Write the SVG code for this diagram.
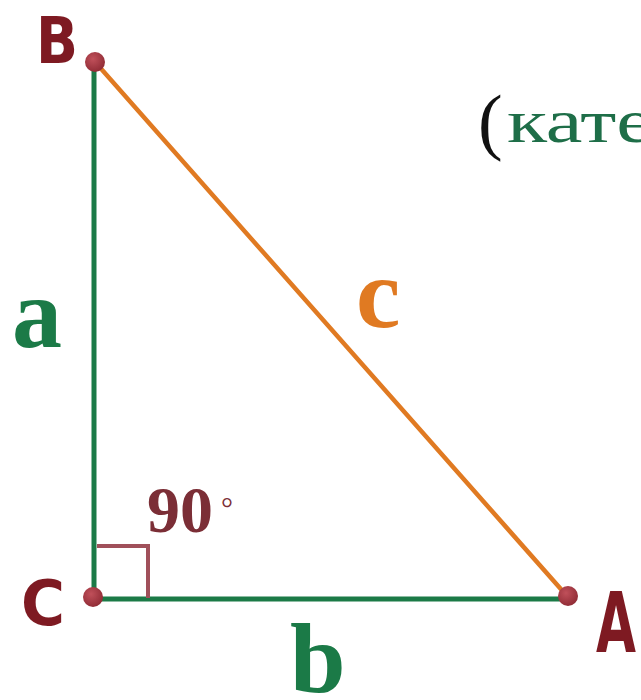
<svg xmlns="http://www.w3.org/2000/svg" width="641" height="700" viewBox="0 0 641 700">
<style>
.leg{stroke:#1b7a47;stroke-width:5;stroke-linecap:round}
.hyp{stroke:#e07a22;stroke-width:4.5;stroke-linecap:round}
.pt{fill:url(#dot)}
.hand{font-family:"DejaVu Sans",sans-serif;font-weight:bold;fill:#7e1a22}
.ser{font-family:"Liberation Serif","DejaVu Serif",serif;font-weight:bold}
</style>
<defs>
<radialGradient id="dot" cx="0.4" cy="0.35" r="0.7">
<stop offset="0" stop-color="#c0505a"/>
<stop offset="1" stop-color="#8e2a34"/>
</radialGradient>
</defs>
<rect width="641" height="700" fill="#ffffff"/>
<g id="connectors">
<line class="leg" x1="94" y1="64" x2="94" y2="598"/>
<line class="leg" x1="94" y1="599" x2="566" y2="599"/>
<line class="hyp" x1="96" y1="63" x2="567" y2="596"/>
</g>
<g id="right-angle">
<polyline points="97,546 148,546 148,598" fill="none" stroke="#a0505a" stroke-width="4"/>
</g>
<g id="node-B">
<circle class="pt" cx="95" cy="62" r="10"/>
<text class="hand" x="36" y="63" font-size="64" textLength="42" lengthAdjust="spacingAndGlyphs">B</text>
</g>
<g id="node-C">
<circle class="pt" cx="93" cy="597" r="10"/>
<text class="hand" x="21" y="625" font-size="62" textLength="44" lengthAdjust="spacingAndGlyphs">C</text>
</g>
<g id="node-A">
<circle class="pt" cx="568" cy="596" r="10"/>
<text class="hand" x="596" y="652" font-size="84" textLength="40" lengthAdjust="spacingAndGlyphs">A</text>
</g>
<g id="label-a"><text class="ser" x="12" y="347" font-size="100" fill="#1b7a47">a</text></g>
<g id="label-b"><text class="ser" x="290" y="692" font-size="100" fill="#1b7a47">b</text></g>
<g id="label-c"><text class="ser" x="356" y="327" font-size="100" fill="#e07a22">c</text></g>
<g id="label-90">
<text class="ser" x="147" y="532" font-size="66" fill="#7b2e36">90</text>
<text x="221" y="518" font-family="Liberation Serif,serif" font-size="30" fill="#7b2e36">°</text>
</g>
<g id="text-katet">
<text x="478" y="146" font-family="Liberation Serif,serif" font-size="74" fill="#111111">(</text>
<text x="507" y="142" font-family="Liberation Serif,serif" font-size="62" fill="#1e6e48" textLength="146" lengthAdjust="spacingAndGlyphs">кате</text>
</g>
</svg>
